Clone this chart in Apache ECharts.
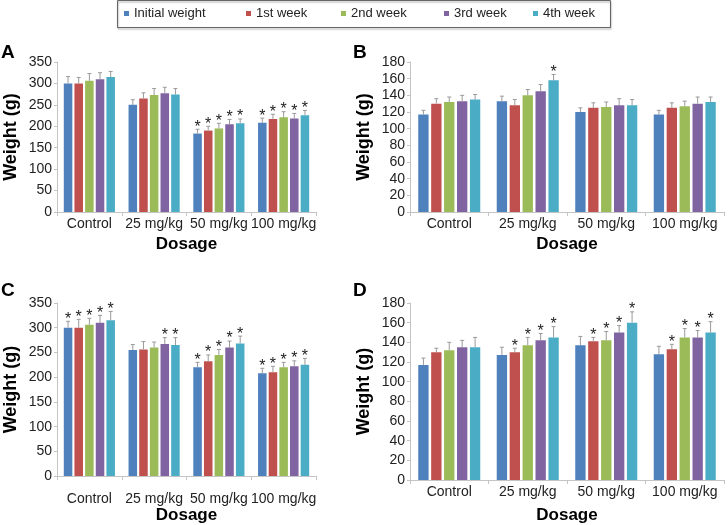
<!DOCTYPE html>
<html>
<head>
<meta charset="utf-8">
<script src="https://cdn.jsdelivr.net/npm/echarts@6/dist/echarts.min.js"></script>
<style>html,body{margin:0;padding:0;background:#fff}#c{width:728px;height:525px}</style>
</head>
<body>
<div id="c"></div>
<script>
// ---- data ----
const dosages = ['Control', '25 mg/kg', '50 mg/kg', '100 mg/kg'];
const weeks = ['Initial weight', '1st week', '2nd week', '3rd week', '4th week'];
const colors = ['#4F81BD', '#C0504D', '#9BBB59', '#8064A2', '#4BACC6'];

// rows = weeks, columns = dosages
const meansA = [[300, 250, 183, 208], [300, 265, 190, 217], [306, 273, 195, 221], [310, 277, 205, 218], [315, 274, 207, 226]];
const errsA  = [[16, 12, 10, 11], [14, 13, 10, 11], [17, 15, 12, 13], [15, 14, 11, 12], [13, 14, 10, 11]];
const starsA = [[0, 0, 1, 1], [0, 0, 1, 1], [0, 0, 1, 1], [0, 0, 1, 1], [0, 0, 1, 1]];

const meansB = [[117, 133, 120, 117], [130, 128, 125, 125], [132, 140, 126, 127], [133, 145, 128, 130], [135, 158, 128, 132]];
const errsB  = [[5, 6, 5, 5], [6, 7, 6, 6], [6, 7, 6, 6], [7, 8, 8, 8], [6, 7, 7, 6]];
const starsB = [[0, 0, 0, 0], [0, 0, 0, 0], [0, 0, 0, 0], [0, 0, 0, 0], [0, 1, 0, 0]];

const meansC = [[300, 255, 220, 208], [300, 256, 232, 210], [306, 260, 245, 220], [310, 267, 260, 222], [315, 265, 268, 225]];
const errsC  = [[13, 11, 10, 10], [17, 16, 13, 12], [13, 11, 11, 10], [15, 13, 13, 11], [18, 15, 15, 13]];
const starsC = [[1, 0, 1, 1], [1, 0, 1, 1], [1, 0, 1, 1], [1, 1, 1, 1], [1, 1, 1, 1]];

const meansD = [[117, 127, 137, 128], [130, 130, 141, 133], [132, 137, 142, 145], [135, 142, 150, 145], [135, 145, 160, 150]];
const errsD  = [[7, 8, 9, 8], [4, 4, 4, 5], [8, 8, 9, 9], [7, 7, 7, 7], [10, 11, 11, 11]];
const starsD = [[0, 0, 0, 0], [0, 1, 1, 1], [0, 1, 1, 1], [0, 1, 1, 1], [0, 1, 1, 1]];

const yMaxAC = 350, yStepAC = 50;
const yMaxBD = 180, yStepBD = 20;
const xTitle = 'Dosage';
const yTitle = 'Weight (g)';

// ---- layout ----
const FONT = '"Liberation Sans", Arial, sans-serif';
const CAT_GAP = 0.21, BAR_GAP = 0.25;
const panels = [
  {letter: 'A', means: meansA, errs: errsA, stars: starsA, max: yMaxAC, step: yStepAC,
   grid: {left: 57, top: 62, width: 259, height: 150}, lx: 1, ly: 43, labelMargin: 5, nameGap: 24},
  {letter: 'B', means: meansB, errs: errsB, stars: starsB, max: yMaxBD, step: yStepBD,
   grid: {left: 410, top: 62, width: 314, height: 150}, lx: 353, ly: 43, labelMargin: 5, nameGap: 24},
  {letter: 'C', means: meansC, errs: errsC, stars: starsC, max: yMaxAC, step: yStepAC,
   grid: {left: 57, top: 303, width: 259, height: 178}, lx: 1, ly: 281, labelMargin: 16, nameGap: 27},
  {letter: 'D', means: meansD, errs: errsD, stars: starsD, max: yMaxBD, step: yStepBD,
   grid: {left: 410, top: 303, width: 314, height: 178}, lx: 353, ly: 281, labelMargin: 5, nameGap: 27}
];
const legendX = [124, 246, 341, 444, 533];

const axisGray = '#c4c4c4';
const grids = [], xAxes = [], yAxes = [], series = [], titles = [], legends = [];

panels.forEach((p, pi) => {
  grids.push(Object.assign({}, p.grid));
  titles.push({text: p.letter, left: p.lx, top: p.ly, padding: 0,
    textStyle: {fontFamily: FONT, fontWeight: 'bold', fontSize: 19, color: '#000'}});
  xAxes.push({
    type: 'category', gridIndex: pi, data: dosages,
    name: xTitle, nameLocation: 'middle', nameGap: p.nameGap,
    nameTextStyle: {fontFamily: FONT, fontWeight: 'bold', fontSize: 17, color: '#000'},
    axisLine: {lineStyle: {color: axisGray}},
    axisTick: {show: true, length: 4, lineStyle: {color: axisGray}},
    axisLabel: {fontFamily: FONT, fontSize: 14, color: '#222', margin: p.labelMargin, interval: 0},
    splitLine: {show: false}
  });
  yAxes.push({
    type: 'value', gridIndex: pi, min: 0, max: p.max, interval: p.step,
    name: yTitle, nameLocation: 'middle', nameRotate: 90, nameGap: 37,
    nameTextStyle: {fontFamily: FONT, fontWeight: 'bold', fontSize: 18, color: '#000'},
    axisLine: {show: true, lineStyle: {color: axisGray}},
    axisTick: {show: true, length: 3, lineStyle: {color: axisGray}},
    axisLabel: {fontFamily: FONT, fontSize: 14, color: '#222', margin: 5},
    splitLine: {show: false}
  });
  weeks.forEach((w, wi) => {
    series.push({
      type: 'bar', name: w, xAxisIndex: pi, yAxisIndex: pi,
      data: p.means[wi], barCategoryGap: (CAT_GAP * 100) + '%', barGap: (BAR_GAP * 100) + '%',
      itemStyle: {color: colors[wi]}, emphasis: {disabled: true}, silent: true
    });
  });
  const errData = [];
  weeks.forEach((w, wi) => {
    dosages.forEach((d, di) => {
      errData.push([di, p.means[wi][di], p.errs[wi][di], p.stars[wi][di], wi]);
    });
  });
  series.push({
    type: 'custom', xAxisIndex: pi, yAxisIndex: pi, data: errData, z: 10, silent: true,
    encode: {x: 0, y: 1},
    renderItem: function (params, api) {
      const cat = api.value(0), mean = api.value(1), err = api.value(2), star = api.value(3), wi = api.value(4);
      const base = api.coord([cat, mean]);
      const top = api.coord([cat, mean + err]);
      const band = api.size([1, 0])[0];
      const groupW = band * (1 - CAT_GAP);
      const barW = groupW / (weeks.length + (weeks.length - 1) * BAR_GAP);
      const x = base[0] - groupW / 2 + wi * barW * (1 + BAR_GAP) + barW / 2;
      const st = {stroke: '#9a9a9a', lineWidth: 1};
      const children = [
        {type: 'line', shape: {x1: x, y1: base[1], x2: x, y2: top[1]}, style: st},
        {type: 'line', shape: {x1: x - 2, y1: top[1], x2: x + 2, y2: top[1]}, style: st}
      ];
      if (star) {
        children.push({type: 'text', style: {text: '*', x: x, y: top[1] - 2, align: 'center', verticalAlign: 'middle',
          font: '16px ' + FONT, fill: '#222'}});
      }
      return {type: 'group', children: children};
    }
  });
});

weeks.forEach((w, wi) => {
  legends.push({
    data: [w], left: legendX[wi], top: 7, padding: 0, icon: 'rect', itemWidth: 5, itemHeight: 5,
    selectedMode: false, textStyle: {fontFamily: FONT, fontSize: 13, color: '#222'}
  });
});

const chart = echarts.init(document.getElementById('c'), null, {renderer: 'canvas'});
chart.setOption({
  animation: false,
  backgroundColor: '#fff',
  title: titles,
  legend: legends,
  grid: grids,
  xAxis: xAxes,
  yAxis: yAxes,
  series: series,
  graphic: [{
    type: 'rect', shape: {x: 117.5, y: 0.5, width: 493, height: 27},
    style: {fill: 'none', stroke: '#666', lineWidth: 1, shadowColor: 'rgba(0,0,0,0.35)', shadowOffsetY: 1.5, shadowOffsetX: 0.5, shadowBlur: 1.5},
    silent: true, z: -1
  }]
});
</script>
</body>
</html>
